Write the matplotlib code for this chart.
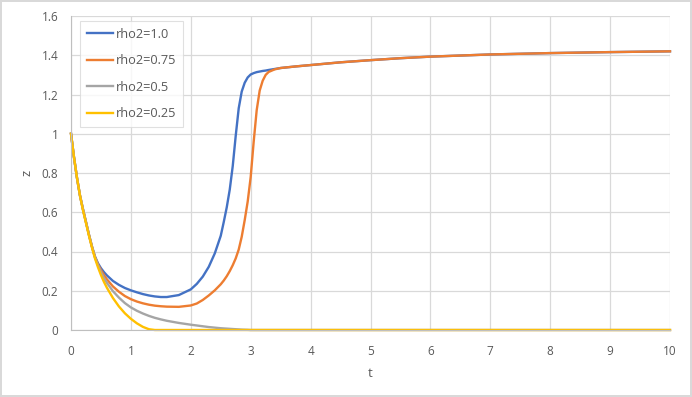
import matplotlib
matplotlib.use("Agg")
import matplotlib.pyplot as plt
from matplotlib.ticker import FuncFormatter

# time grid (same for every series)
t = [0, 0.05, 0.1, 0.15, 0.2, 0.25, 0.3, 0.35, 0.4, 0.45, 0.5, 0.55, 0.6, 0.7, 0.8, 0.9,
     1.0, 1.1, 1.2, 1.3, 1.4, 1.5, 1.6, 1.8, 2.0, 2.1, 2.2, 2.3, 2.4, 2.5,
     2.55, 2.6, 2.65, 2.7, 2.75, 2.8, 2.85, 2.9, 2.95, 3.0, 3.05, 3.1, 3.15,
     3.2, 3.25, 3.3, 3.4, 3.5, 3.75, 4.0, 4.5, 5.0, 5.5, 6.0, 7.0, 8.0, 9.0, 10.0]

z_rho_100 = [1.0, 0.88, 0.775, 0.685, 0.615, 0.55, 0.485, 0.425, 0.375, 0.34, 0.315, 0.295, 0.278, 0.25, 0.23, 0.214,
             0.202, 0.192, 0.183, 0.176, 0.171, 0.168, 0.168, 0.178, 0.207, 0.235, 0.272, 0.322, 0.39, 0.48,
             0.55, 0.625, 0.715, 0.835, 0.99, 1.13, 1.215, 1.26, 1.287, 1.302, 1.309, 1.314, 1.317,
             1.32, 1.322, 1.325, 1.33, 1.335, 1.343, 1.35, 1.364, 1.375, 1.385, 1.393, 1.404, 1.411, 1.416, 1.42]

z_rho_075 = [1.0, 0.88, 0.775, 0.685, 0.615, 0.55, 0.485, 0.425, 0.372, 0.335, 0.305, 0.28, 0.258, 0.222, 0.195, 0.173,
             0.157, 0.145, 0.136, 0.129, 0.124, 0.121, 0.119, 0.118, 0.125, 0.135, 0.153, 0.176, 0.202, 0.233,
             0.252, 0.274, 0.30, 0.33, 0.365, 0.41, 0.475, 0.56, 0.655, 0.78, 0.96, 1.12, 1.22,
             1.27, 1.30, 1.315, 1.328, 1.335, 1.343, 1.35, 1.364, 1.375, 1.385, 1.393, 1.404, 1.411, 1.416, 1.42]

z_rho_050 = [1.0, 0.88, 0.775, 0.685, 0.615, 0.55, 0.485, 0.425, 0.37, 0.33, 0.295, 0.265, 0.24, 0.198, 0.165, 0.137,
             0.115, 0.098, 0.084, 0.072, 0.062, 0.054, 0.047, 0.036, 0.027, 0.023, 0.019, 0.015, 0.012, 0.009,
             0.008, 0.007, 0.006, 0.005, 0.004, 0.003, 0.002, 0.0015, 0.001, 0.0, 0.0, 0.0, 0.0,
             0.0, 0.0, 0.0, 0.0, 0.0, 0.0, 0.0, 0.0, 0.0, 0.0, 0.0, 0.0, 0.0, 0.0, 0.0]

z_rho_025 = [1.0, 0.88, 0.775, 0.685, 0.61, 0.545, 0.48, 0.42, 0.365, 0.32, 0.28, 0.245, 0.215, 0.163, 0.12, 0.085,
             0.057, 0.034, 0.016, 0.004, 0.0, 0.0, 0.0, 0.0, 0.0, 0.0, 0.0, 0.0, 0.0, 0.0,
             0.0, 0.0, 0.0, 0.0, 0.0, 0.0, 0.0, 0.0, 0.0, 0.0, 0.0, 0.0, 0.0,
             0.0, 0.0, 0.0, 0.0, 0.0, 0.0, 0.0, 0.0, 0.0, 0.0, 0.0, 0.0, 0.0, 0.0, 0.0]

labels = ["rho2=1.0", "rho2=0.75", "rho2=0.5", "rho2=0.25"]
colors = ["#4472C4", "#ED7D31", "#A5A5A5", "#FFC000"]
series = [z_rho_100, z_rho_075, z_rho_050, z_rho_025]

plt.rcParams['font.family'] = ['Open Sans', 'DejaVu Sans']

fig = plt.figure(figsize=(6.92, 3.97), dpi=100)
fig.patch.set_edgecolor('#d9d9d9')
fig.patch.set_linewidth(1.5)
ax = fig.add_axes([71/692, 1 - 330/397, (670 - 71)/692, (330 - 16)/397])

for z, lab, col in zip(series, labels, colors):
    ax.plot(t, z, color=col, lw=1.7, label=lab, clip_on=False,
            solid_joinstyle='round')

ax.set_xlim(0, 10)
ax.set_ylim(0, 1.6)
ax.set_xticks(range(0, 11))
ax.set_yticks([0, 0.2, 0.4, 0.6, 0.8, 1.0, 1.2, 1.4, 1.6])
ax.yaxis.set_major_formatter(FuncFormatter(lambda v, p: f"{v:g}"))
ax.grid(True, color='#d9d9d9', lw=0.9)
ax.set_axisbelow(True)
for s in ['top', 'right']:
    ax.spines[s].set_visible(False)
for s in ['left', 'bottom']:
    ax.spines[s].set_color('#bfbfbf')
ax.tick_params(axis='x', length=0, colors='#595959', labelsize=8.5, pad=11)
ax.tick_params(axis='y', length=0, colors='#595959', labelsize=8.5, pad=9)
ax.set_xlabel('t', color='#595959', fontsize=9.5, labelpad=6)
ax.set_ylabel('z', color='#595959', fontsize=9.5, labelpad=6)

leg = ax.legend(loc='upper left', bbox_to_anchor=(0.015, 0.985), fontsize=9.2,
                frameon=True, fancybox=False, handlelength=2.0, labelspacing=1.05,
                borderpad=0.55, handletextpad=0.25, borderaxespad=0)
leg.get_frame().set_edgecolor('#d9d9d9')
leg.get_frame().set_linewidth(0.8)
for txt in leg.get_texts():
    txt.set_color('#595959')

fig.savefig('out.png', dpi=100)
